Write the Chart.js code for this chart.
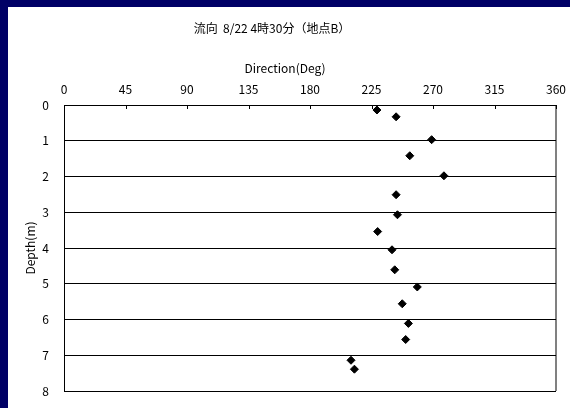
<!DOCTYPE html>
<html lang="ja">
<head>
  <meta charset="UTF-8">
  <title>流向</title>
  <script src="https://cdn.jsdelivr.net/npm/chart.js"></script>
  <style>
    body {
      margin: 0;
      background: #000066;
      width: 570px;
      height: 408px;
      overflow: hidden;
    }
    .frame {
      position: absolute;
      left: 8px;
      top: 7px;
      width: 562px;
      height: 401px;
      background: #ffffff;
    }
  </style>
</head>
<body>
  <div class="frame">
    <canvas id="grafico" width="562" height="401"></canvas>
  </div>

  <script>
    // datos
    const direccion = [229, 243, 269, 253, 278, 243, 244, 229.5, 240, 242, 258.5, 247.5, 252, 250, 210, 212.5];
    const profundidad = [0.14, 0.33, 0.97, 1.42, 1.98, 2.51, 3.07, 3.54, 4.05, 4.61, 5.09, 5.56, 6.11, 6.56, 7.14, 7.39];
    const titulo = '流向  8/22 4時30分（地点B）';
    const tituloX = 'Direction(Deg)';
    const tituloY = 'Depth(m)';

    const fuente = '"Noto Sans CJK JP", "DejaVu Sans", sans-serif';
    const puntos = direccion.map((d, i) => ({ x: d, y: profundidad[i] }));

    // titulo, titulo del eje X y marcas interiores del eje superior
    const textos = {
      id: 'textos',
      afterDraw(chart) {
        const ctx = chart.ctx;
        const area = chart.chartArea;
        const ejeX = chart.scales.x;
        ctx.save();
        ctx.strokeStyle = '#000';
        ctx.lineWidth = 1;
        ejeX.ticks.forEach(t => {
          const px = Math.round(ejeX.getPixelForValue(t.value)) + 0.5;
          ctx.beginPath();
          ctx.moveTo(px, area.top);
          ctx.lineTo(px, area.top + 4);
          ctx.stroke();
        });
        ctx.fillStyle = '#000';
        ctx.textAlign = 'center';
        ctx.textBaseline = 'middle';
        ctx.font = '12px ' + fuente;
        ctx.fillText(titulo, 264, 21);
        ctx.fillText(tituloX, 277, 61);
        ctx.restore();
      }
    };

    new Chart(document.getElementById('grafico'), {
      type: 'scatter',
      data: {
        datasets: [{
          data: puntos,
          backgroundColor: '#000',
          borderColor: '#000',
          pointStyle: 'rectRot',
          pointRadius: 4,
          pointHoverRadius: 4
        }]
      },
      options: {
        responsive: false,
        animation: false,
        layout: { padding: { top: 0, right: 14, bottom: 17, left: 0 } },
        plugins: {
          legend: { display: false },
          tooltip: { enabled: false },
          title: { display: false }
        },
        scales: {
          x: {
            type: 'linear',
            position: 'top',
            min: 0,
            max: 360,
            afterFit: s => { s.height = 98; s.paddingLeft = 0; s.paddingRight = 0; },
            ticks: { stepSize: 45, color: '#000', padding: 8, font: { size: 12, family: fuente } },
            grid: {
              drawTicks: false,
              color: c => c.tick && c.tick.value === 360 ? '#808080' : 'rgba(0,0,0,0)',
              lineWidth: c => c.tick && c.tick.value === 360 ? 2 : 1
            },
            border: { color: '#000', width: 1 }
          },
          y: {
            type: 'linear',
            reverse: true,
            min: 0,
            max: 8,
            afterFit: s => { s.width = 56; s.paddingTop = 0; s.paddingBottom = 0; },
            ticks: { stepSize: 1, color: '#000', padding: 15, font: { size: 12, family: fuente } },
            title: { display: true, text: tituloY, color: '#000', padding: { top: 15 }, font: { size: 12, family: fuente } },
            grid: { drawTicks: false, color: '#000', lineWidth: 1 },
            border: { color: '#000', width: 1 }
          }
        }
      },
      plugins: [textos]
    });
  </script>
</body>
</html>
